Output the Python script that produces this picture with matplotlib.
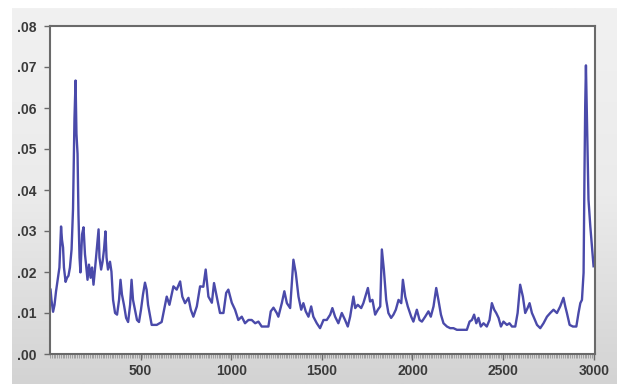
import numpy as np
import matplotlib
matplotlib.use("Agg")
import matplotlib.pyplot as plt
from matplotlib.ticker import FuncFormatter, MultipleLocator

obs = [3, 8, 17, 25, 33, 44, 52, 61, 66, 72, 77, 86, 94, 102, 110, 119, 127, 135, 141, 146,
       152, 157, 163, 168, 177, 185, 193, 199, 207, 215, 224, 232, 240, 248, 259, 268, 273, 282, 290, 298,
       306, 312, 320, 331, 339, 348, 359, 370, 381, 389, 397, 408, 420, 431, 442, 450, 458, 469, 480, 491,
       502, 513, 524, 533, 541, 561, 589, 616, 644, 659, 681, 699, 718, 730, 745, 764, 777, 791, 810, 828,
       846, 859, 874, 893, 905, 920, 938, 957, 972, 984, 1003, 1021, 1039, 1058, 1076, 1095, 1113, 1132, 1150, 1168,
       1187, 1205, 1218, 1233, 1251, 1260, 1279, 1293, 1307, 1325, 1343, 1356, 1371, 1386, 1398, 1411, 1426, 1441, 1453, 1472,
       1490, 1509, 1527, 1546, 1558, 1573, 1591, 1610, 1628, 1643, 1656, 1674, 1684, 1698, 1717, 1729, 1754, 1766, 1779, 1794,
       1809, 1822, 1831, 1842, 1855, 1867, 1882, 1895, 1908, 1923, 1938, 1947, 1960, 1974, 1993, 2005, 2024, 2039, 2052, 2070,
       2088, 2101, 2116, 2131, 2143, 2157, 2171, 2190, 2208, 2226, 2245, 2263, 2281, 2300, 2315, 2328, 2340, 2352, 2364, 2377,
       2392, 2410, 2425, 2438, 2451, 2462, 2475, 2488, 2502, 2521, 2535, 2549, 2567, 2580, 2594, 2609, 2622, 2635, 2646, 2659,
       2668, 2687, 2705, 2723, 2742, 2760, 2778, 2797, 2815, 2833, 2843, 2852, 2867, 2885, 2904, 2916, 2926, 2935, 2944, 2949,
       2953, 2957, 2962, 2971, 2981, 2990, 2999]
vol = [.0157, .0132, .0103, .0120, .0152, .0186, .0211, .0311, .0279, .0260, .0211, .0176, .0186, .0191, .0211, .0255, .0353, .0574, .0667, .0537,
       .0488, .0341, .0235, .0199, .0292, .0309, .0243, .0218, .0181, .0218, .0186, .0211, .0169, .0206, .0260, .0304, .0235, .0206, .0225, .0255,
       .0299, .0235, .0206, .0225, .0201, .0132, .0100, .0096, .0132, .0181, .0145, .0120, .0088, .0078, .0120, .0181, .0132, .0108, .0083, .0078,
       .0108, .0145, .0174, .0157, .0120, .0071, .0071, .0078, .0140, .0120, .0165, .0157, .0177, .0140, .0124, .0137, .0108, .0091, .0116, .0165,
       .0164, .0206, .0140, .0125, .0173, .0140, .0100, .0100, .0149, .0157, .0125, .0108, .0083, .0091, .0075, .0083, .0083, .0075, .0079, .0067,
       .0067, .0067, .0104, .0113, .0100, .0091, .0124, .0153, .0124, .0112, .0230, .0198, .0140, .0108, .0124, .0104, .0091, .0116, .0091, .0075,
       .0063, .0083, .0083, .0096, .0112, .0091, .0075, .0100, .0083, .0067, .0091, .0140, .0112, .0120, .0112, .0124, .0161, .0128, .0132, .0096,
       .0108, .0116, .0255, .0206, .0132, .0100, .0088, .0096, .0108, .0132, .0124, .0181, .0140, .0116, .0091, .0079, .0108, .0083, .0079, .0091,
       .0104, .0091, .0116, .0161, .0132, .0096, .0075, .0067, .0063, .0063, .0059, .0059, .0059, .0059, .0079, .0083, .0096, .0075, .0088, .0067,
       .0075, .0067, .0083, .0124, .0108, .0100, .0088, .0067, .0079, .0071, .0075, .0067, .0067, .0100, .0169, .0140, .0100, .0112, .0124, .0100,
       .0091, .0071, .0063, .0075, .0091, .0100, .0108, .0100, .0116, .0137, .0116, .0100, .0071, .0067, .0067, .0100, .0124, .0132, .0198, .0443,
       .0606, .0704, .0582, .0377, .0312, .0263, .0214]

x_major = [500, 1000, 1500, 2000, 2500, 3000]
y_major = [0.00, 0.01, 0.02, 0.03, 0.04, 0.05, 0.06, 0.07, 0.08]

W, H = 617, 384
fig = plt.figure(figsize=(W / 100, H / 100), dpi=100, facecolor="white")

# grey gradient panel behind the chart
bg = fig.add_axes([12 / W, 0, 1 - 12 / W, 1 - 8 / H], zorder=-10)
grad = np.linspace(0, 1, 256).reshape(-1, 1)
bg.imshow(grad, aspect="auto", cmap=matplotlib.colors.LinearSegmentedColormap.from_list(
    "g", ["#f1f1f1", "#ebebeb", "#d3d3d3"]), extent=[0, 1, 0, 1])
bg.axis("off")

ax = fig.add_axes([50 / W, 1 - 354 / H, 545 / W, 328 / H])
ax.set_facecolor("white")
ax.plot(obs, vol, color="#4a4aaa", lw=1.7, solid_joinstyle="round")

ax.set_xlim(0, 3007)
ax.set_ylim(0, 0.08)
ax.set_xticks(x_major)
ax.set_yticks(y_major)
ax.xaxis.set_minor_locator(MultipleLocator(10))
ax.yaxis.set_major_formatter(FuncFormatter(lambda v, p: f"{v:.2f}".lstrip("0")))

for s in ax.spines.values():
    s.set_color("#6a6a6a")
    s.set_linewidth(1.5)

lab = dict(fontsize=10, fontweight="bold", color="#3a3a3a", fontfamily="Liberation Sans")
for t in ax.get_xticklabels() + ax.get_yticklabels():
    t.set(**lab)
ax.tick_params(axis="y", direction="out", length=4, width=1, color="#6a6a6a", pad=6)
ax.tick_params(axis="x", which="major", direction="out", length=4, width=1, color="#6a6a6a", pad=3)
ax.tick_params(axis="x", which="minor", direction="out", length=3, width=0.5, color="#8a8a8a")

fig.savefig("out.png", dpi=100, facecolor=fig.get_facecolor())
